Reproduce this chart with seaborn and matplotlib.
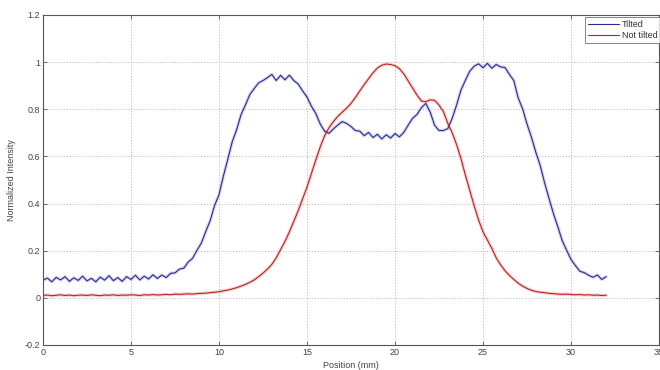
import numpy as np
import pandas as pd
import matplotlib
matplotlib.use("Agg")
import matplotlib.pyplot as plt
import seaborn as sns

# Beam profiles sampled every 0.25 mm across the detector
position_mm = np.arange(0, 32.25, 0.25)

tilted = [
    0.075, 0.084, 0.068, 0.087,   # 0 mm
    0.076, 0.090, 0.070, 0.085,   # 1
    0.074, 0.092, 0.072, 0.083,   # 2
    0.068, 0.088, 0.075, 0.094,   # 3
    0.073, 0.086, 0.070, 0.090,   # 4
    0.078, 0.096, 0.076, 0.092,   # 5
    0.080, 0.098, 0.082, 0.097,   # 6
    0.086, 0.104, 0.106, 0.122,   # 7
    0.126, 0.152, 0.168, 0.202,   # 8
    0.233, 0.282, 0.328, 0.392,   # 9
    0.438, 0.517, 0.588, 0.662,   # 10
    0.713, 0.777, 0.818, 0.862,   # 11
    0.888, 0.912, 0.922, 0.934,   # 12
    0.948, 0.922, 0.944, 0.925,   # 13
    0.945, 0.922, 0.907, 0.878,   # 14
    0.852, 0.813, 0.782, 0.738,   # 15
    0.707, 0.698, 0.717, 0.733,   # 16
    0.748, 0.740, 0.727, 0.710,   # 17
    0.707, 0.688, 0.702, 0.680,   # 18
    0.694, 0.674, 0.692, 0.678,   # 19
    0.697, 0.683, 0.702, 0.733,   # 20
    0.762, 0.778, 0.807, 0.825,   # 21
    0.788, 0.732, 0.710, 0.710,   # 22
    0.718, 0.762, 0.818, 0.882,   # 23
    0.923, 0.962, 0.983, 0.993,   # 24
    0.976, 0.995, 0.974, 0.990,   # 25
    0.980, 0.977, 0.948, 0.922,   # 26
    0.848, 0.802, 0.738, 0.682,   # 27
    0.618, 0.562, 0.488, 0.422,   # 28
    0.358, 0.302, 0.243, 0.202,   # 29
    0.163, 0.137, 0.113, 0.107,   # 30
    0.096, 0.087, 0.097, 0.078,   # 31
    0.090,                        # 32
]

not_tilted = [
    0.010, 0.012, 0.009, 0.011,   # 0 mm
    0.013, 0.010, 0.012, 0.009,   # 1
    0.011, 0.012, 0.010, 0.013,   # 2
    0.011, 0.009, 0.012, 0.011,   # 3
    0.013, 0.010, 0.012, 0.011,   # 4
    0.013, 0.012, 0.010, 0.013,   # 5
    0.012, 0.014, 0.012, 0.013,   # 6
    0.015, 0.013, 0.016, 0.015,   # 7
    0.016, 0.017, 0.016, 0.018,   # 8
    0.019, 0.020, 0.022, 0.024,   # 9
    0.026, 0.030, 0.033, 0.038,   # 10
    0.043, 0.050, 0.057, 0.066,   # 11
    0.076, 0.090, 0.105, 0.122,   # 12
    0.142, 0.170, 0.205, 0.240,   # 13
    0.280, 0.325, 0.370, 0.420,   # 14
    0.470, 0.528, 0.585, 0.640,   # 15
    0.688, 0.722, 0.748, 0.770,   # 16
    0.788, 0.805, 0.825, 0.850,   # 17
    0.878, 0.905, 0.930, 0.955,   # 18
    0.975, 0.987, 0.992, 0.990,   # 19
    0.985, 0.972, 0.950, 0.920,   # 20
    0.890, 0.860, 0.835, 0.832,   # 21
    0.840, 0.838, 0.818, 0.790,   # 22
    0.740, 0.700, 0.650, 0.590,   # 23
    0.520, 0.455, 0.390, 0.330,   # 24
    0.280, 0.245, 0.210, 0.170,   # 25
    0.140, 0.115, 0.095, 0.078,   # 26
    0.062, 0.050, 0.040, 0.032,   # 27
    0.027, 0.024, 0.022, 0.019,   # 28
    0.018, 0.016, 0.015, 0.016,   # 29
    0.014, 0.013, 0.014, 0.012,   # 30
    0.013, 0.011, 0.012, 0.010,   # 31
    0.011,                        # 32
]

series_names = ["Tilted", "Not tilted"]
series_colors = ["#2a2a96", "#bf1f1f"]
glow_colors = ["#9a9ad8", "#f29090"]

x_ticks = [0, 5, 10, 15, 20, 25, 30, 35]
y_ticks = [-0.2, 0, 0.2, 0.4, 0.6, 0.8, 1.0, 1.2]
y_tick_labels = ["-0.2", "0", "0.2", "0.4", "0.6", "0.8", "1", "1.2"]

df = pd.DataFrame({
    "Position (mm)": np.concatenate([position_mm, position_mm]),
    "Normalized Intensity": np.concatenate([tilted, not_tilted]),
    "profile": [series_names[0]] * len(tilted) + [series_names[1]] * len(not_tilted),
})

sns.set_style("white")
plt.rcParams["font.family"] = ["Liberation Sans Narrow", "Liberation Sans", "DejaVu Sans"]

fig = plt.figure(figsize=(6.6, 3.7), dpi=100)
ax = fig.add_axes([43 / 660, 1 - 345 / 370, 616 / 660, 330 / 370])

# soft halo under each trace
for name, gc in zip(series_names, glow_colors):
    sub = df[df["profile"] == name]
    sns.lineplot(data=sub, x="Position (mm)", y="Normalized Intensity",
                 color=gc, linewidth=2.4, alpha=0.4, ax=ax, legend=False)

sns.lineplot(data=df, x="Position (mm)", y="Normalized Intensity", hue="profile",
             hue_order=series_names, palette=series_colors, linewidth=0.8, ax=ax)

ax.set_xlim(0, 35)
ax.set_ylim(-0.2, 1.2)
ax.set_xticks(x_ticks)
ax.set_xticklabels([str(t) for t in x_ticks])
ax.set_yticks(y_ticks)
ax.set_yticklabels(y_tick_labels)

ax.grid(True, linestyle=(0, (1.5, 2)), color="#b8b8b8", linewidth=0.6)
ax.tick_params(direction="in", length=3, width=0.6, colors="#555555",
               labelsize=6.5, labelcolor="#444444",
               top=True, right=True, bottom=True, left=True, pad=2)
for s in ax.spines.values():
    s.set_color("#555555")
    s.set_linewidth(0.8)

ax.set_xlabel("Position (mm)", fontsize=6.5, color="#444444", labelpad=3)
ax.set_ylabel("Normalized Intensity", fontsize=6.5, color="#444444", labelpad=6)

leg = ax.legend(loc="upper left", bbox_to_anchor=(0.88, 0.995), fontsize=6.5,
                frameon=True, fancybox=False, handlelength=3.4, borderpad=0.35,
                labelspacing=0.25, handletextpad=0.3, borderaxespad=0)
leg.get_frame().set_edgecolor("#666666")
leg.get_frame().set_linewidth(0.7)
for t in leg.get_texts():
    t.set_color("#333333")

fig.savefig("out.png", dpi=100)
